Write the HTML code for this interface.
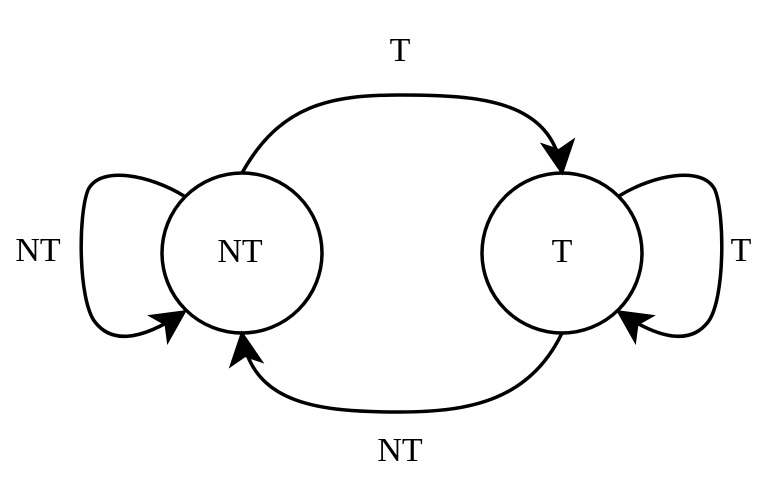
<!DOCTYPE html>
<html><head><meta charset="utf-8"><style>
html,body{margin:0;padding:0;background:#fff;}
svg{display:block;}
text{font-family:"Liberation Serif",serif;font-size:34px;fill:#000;}
</style></head><body>
<svg width="760" height="504" viewBox="0 0 760 504">
<defs>
<marker id="ah" viewBox="0 0 20 20" refX="18" refY="10" markerWidth="36" markerHeight="36" markerUnits="userSpaceOnUse" orient="auto">
<path d="M0,0 L20,10 L0,20 L5,10 Z" fill="#000"/>
</marker>
</defs>
<g fill="none" stroke="#000" stroke-width="3.5">
<circle cx="242" cy="253" r="80"/>
<circle cx="562" cy="253" r="80"/>
<path d="M242,173 C280,105 330,95 400,95 C480,95 552,100 562,172" marker-end="url(#ah)"/>
<path d="M562,333 C530,400 470,412 400,412 C320,412 252,405 242,334" marker-end="url(#ah)"/>
<path d="M184,196 C150,175 100,165 88,190 C78,215 78,300 95,322 C115,348 150,335 184,312" marker-end="url(#ah)"/>
<path d="M619,196 C653,175 703,165 715,190 C725,215 725,300 708,322 C688,348 653,335 619,312" marker-end="url(#ah)"/>
</g>
<text x="240" y="262" text-anchor="middle">NT</text>
<text x="562" y="262" text-anchor="middle">T</text>
<text x="400" y="61" text-anchor="middle">T</text>
<text x="400" y="461" text-anchor="middle">NT</text>
<text x="38" y="261" text-anchor="middle">NT</text>
<text x="741" y="261" text-anchor="middle">T</text>
</svg>
</body></html>
